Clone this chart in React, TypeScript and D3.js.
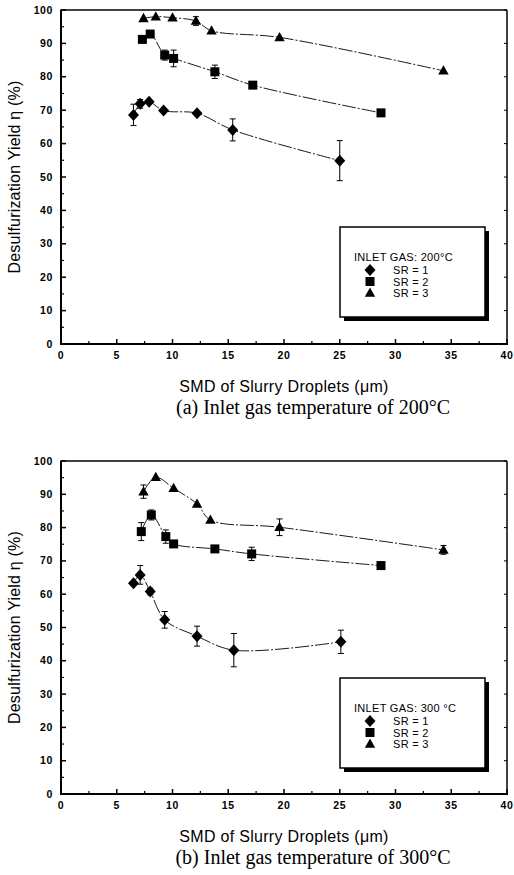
import React from "react";
import * as d3 from "d3";

// SMD of slurry droplets (um) and desulfurization yield (%)
const sr1X200 = [6.5, 7.1, 7.9, 9.2, 12.2, 15.4, 25.0];
const sr1Y200 = [68.6, 71.9, 72.5, 69.9, 69.1, 64.1, 54.9];
const sr1E200 = [3.2, 1.3, 0, 0, 0, 3.3, 6];
const sr2X200 = [7.3, 8.0, 9.3, 10.1, 13.8, 17.2, 28.7];
const sr2Y200 = [91.2, 92.8, 86.5, 85.5, 81.5, 77.5, 69.2];
const sr2E200 = [0, 0, 1.5, 2.5, 2, 1, 0];
const sr3X200 = [7.4, 8.5, 10.0, 12.1, 13.5, 19.6, 34.3];
const sr3Y200 = [97.5, 98.0, 97.7, 96.7, 93.8, 91.8, 81.8];
const sr3E200 = [0, 0, 0, 1.3, 0, 0, 0];

const sr1X300 = [6.5, 7.1, 8.0, 9.3, 12.2, 15.5, 25.1];
const sr1Y300 = [63.3, 65.8, 60.8, 52.3, 47.4, 43.2, 45.7];
const sr1E300 = [0, 2.8, 1, 2.5, 3, 5, 3.5];
const sr2X300 = [7.2, 8.1, 9.4, 10.1, 13.8, 17.1, 28.7];
const sr2Y300 = [78.8, 83.8, 77.3, 75.1, 73.6, 72.1, 68.6];
const sr2E300 = [2.7, 1.5, 2, 0, 0, 2, 0];
const sr3X300 = [7.4, 8.5, 10.1, 12.2, 13.4, 19.6, 34.3];
const sr3Y300 = [90.8, 95.1, 91.8, 87.1, 82.3, 80.1, 73.3];
const sr3E300 = [2, 0, 0, 0, 0, 2.5, 1.3];

const xTicks = [0, 5, 10, 15, 20, 25, 30, 35, 40];
const yTicks = [0, 10, 20, 30, 40, 50, 60, 70, 80, 90, 100];
const srLabels = ["SR = 1", "SR = 2", "SR = 3"];

const sans = "'Liberation Sans', Arial, Helvetica, sans-serif";
const serif = "'Liberation Serif', 'Times New Roman', serif";

type Series = { x: number[]; y: number[]; e: number[]; shape: string };

const Marker = ({ shape, cx, cy }: { shape: string; cx: number; cy: number }) => {
  if (shape === "diamond")
    return <path d={`M${cx},${cy - 6}L${cx + 5.5},${cy}L${cx},${cy + 6}L${cx - 5.5},${cy}Z`} fill="#000" />;
  if (shape === "square") return <rect x={cx - 4.5} y={cy - 4.5} width={9} height={9} fill="#000" />;
  return <path d={`M${cx},${cy - 5.5}L${cx + 5.2},${cy + 3.8}L${cx - 5.2},${cy + 3.8}Z`} fill="#000" />;
};

const Panel = ({ top, bottom, series, legendTitle, caption }: {
  top: number; bottom: number; series: Series[]; legendTitle: string; caption: string;
}) => {
  const left = 61, right = 507;
  const x = d3.scaleLinear().domain([0, 40]).range([left, right]);
  const y = d3.scaleLinear().domain([0, 100]).range([bottom, top]);
  const line = d3.line<[number, number]>()
    .x((d) => x(d[0])).y((d) => y(d[1]))
    .curve(d3.curveCatmullRom.alpha(0.5));
  const xMinor = d3.range(2.5, 40, 5);
  const yMinor = d3.range(5, 100, 10);
  const lx = 340, ly = top + 217;

  return (
    <g>
      {/* frame */}
      <line x1={left} x2={right} y1={top} y2={top} stroke="#000" strokeWidth={1.5} />
      <line x1={right} x2={right} y1={top} y2={bottom} stroke="#000" strokeWidth={1.5} />
      <line x1={left} x2={left} y1={top - 0.5} y2={bottom + 1} stroke="#000" strokeWidth={2} />
      <line x1={left - 1} x2={right + 1} y1={bottom} y2={bottom} stroke="#000" strokeWidth={2} />

      {xTicks.map((t) => (
        <g key={"x" + t}>
          <line x1={x(t)} x2={x(t)} y1={bottom} y2={bottom - 5} stroke="#000" strokeWidth={1.5} />
          <text x={x(t)} y={bottom + 15} textAnchor="middle" fontFamily={sans} fontSize={10.5}
            fontWeight="bold" letterSpacing={0.6}>{t}</text>
        </g>
      ))}
      {xMinor.map((t) => (
        <line key={"xm" + t} x1={x(t)} x2={x(t)} y1={bottom} y2={bottom - 3} stroke="#000" strokeWidth={1.2} />
      ))}
      {yTicks.map((t) => (
        <g key={"y" + t}>
          <line x1={left} x2={left + 5} y1={y(t)} y2={y(t)} stroke="#000" strokeWidth={1.5} />
          <line x1={right} x2={right - 3} y1={y(t)} y2={y(t)} stroke="#000" strokeWidth={1} />
          <text x={left - 8} y={y(t) + 3.5} textAnchor="end" fontFamily={sans} fontSize={10.5}
            fontWeight="bold" letterSpacing={0.6}>{t}</text>
        </g>
      ))}
      {yMinor.map((t) => (
        <line key={"ym" + t} x1={left} x2={left + 3} y1={y(t)} y2={y(t)} stroke="#000" strokeWidth={1.2} />
      ))}

      {/* curves, error bars, markers */}
      {series.map((s, i) => {
        const pts = s.x.map((v, j) => [v, s.y[j]] as [number, number]);
        return (
          <g key={"s" + i}>
            <path d={line(pts) || ""} fill="none" stroke="#000" strokeWidth={0.9}
              strokeDasharray="14,2,2,2" />
            {pts.map((p, j) =>
              s.e[j] > 0 ? (
                <g key={"e" + j} stroke="#000" strokeWidth={1}>
                  <line x1={x(p[0])} x2={x(p[0])} y1={y(p[1] - s.e[j])} y2={y(p[1] + s.e[j])} />
                  <line x1={x(p[0]) - 3} x2={x(p[0]) + 3} y1={y(p[1] - s.e[j])} y2={y(p[1] - s.e[j])} />
                  <line x1={x(p[0]) - 3} x2={x(p[0]) + 3} y1={y(p[1] + s.e[j])} y2={y(p[1] + s.e[j])} />
                </g>
              ) : null
            )}
            {pts.map((p, j) => <Marker key={"m" + j} shape={s.shape} cx={x(p[0])} cy={y(p[1])} />)}
          </g>
        );
      })}

      {/* legend */}
      <rect x={lx + 4} y={ly + 4} width={145} height={90} fill="#000" />
      <rect x={lx} y={ly} width={145} height={90} fill="#fff" stroke="#000" strokeWidth={1.5} />
      <text x={lx + 14} y={ly + 34} fontFamily={sans} fontSize={11} letterSpacing={0.3}>{legendTitle}</text>
      {series.map((s, i) => (
        <g key={"l" + i}>
          <Marker shape={s.shape} cx={lx + 30} cy={ly + 43 + i * 11.5} />
          <text x={lx + 53} y={ly + 47 + i * 11.5} fontFamily={sans} fontSize={11}
            letterSpacing={0.3}>{srLabels[i]}</text>
        </g>
      ))}

      {/* titles */}
      <text transform={`translate(20,${(top + bottom) / 2}) rotate(-90)`} textAnchor="middle"
        fontFamily={sans} fontSize={16} letterSpacing={0.2}>Desulfurization Yield η (%)</text>
      <text x={(left + right) / 2} y={bottom + 48} textAnchor="middle" fontFamily={sans}
        fontSize={16} letterSpacing={0.3}>SMD of Slurry Droplets (μm)</text>
      <text x={313} y={bottom + 70} textAnchor="middle" fontFamily={serif}
        fontSize={20}>{caption}</text>
    </g>
  );
};

export default function App() {
  const top: Series[] = [
    { x: sr1X200, y: sr1Y200, e: sr1E200, shape: "diamond" },
    { x: sr2X200, y: sr2Y200, e: sr2E200, shape: "square" },
    { x: sr3X200, y: sr3Y200, e: sr3E200, shape: "triangle" },
  ];
  const bottom: Series[] = [
    { x: sr1X300, y: sr1Y300, e: sr1E300, shape: "diamond" },
    { x: sr2X300, y: sr2Y300, e: sr2E300, shape: "square" },
    { x: sr3X300, y: sr3Y300, e: sr3E300, shape: "triangle" },
  ];
  return (
    <svg width={514} height={875} style={{ position: "absolute", left: 0, top: 0, background: "#fff" }}>
      <rect width={514} height={875} fill="#fff" />
      <Panel top={10} bottom={344} series={top} legendTitle="INLET GAS: 200°C"
        caption="(a) Inlet gas temperature of 200°C" />
      <Panel top={461} bottom={794} series={bottom} legendTitle="INLET GAS: 300 °C"
        caption="(b) Inlet gas temperature of 300°C" />
    </svg>
  );
}
